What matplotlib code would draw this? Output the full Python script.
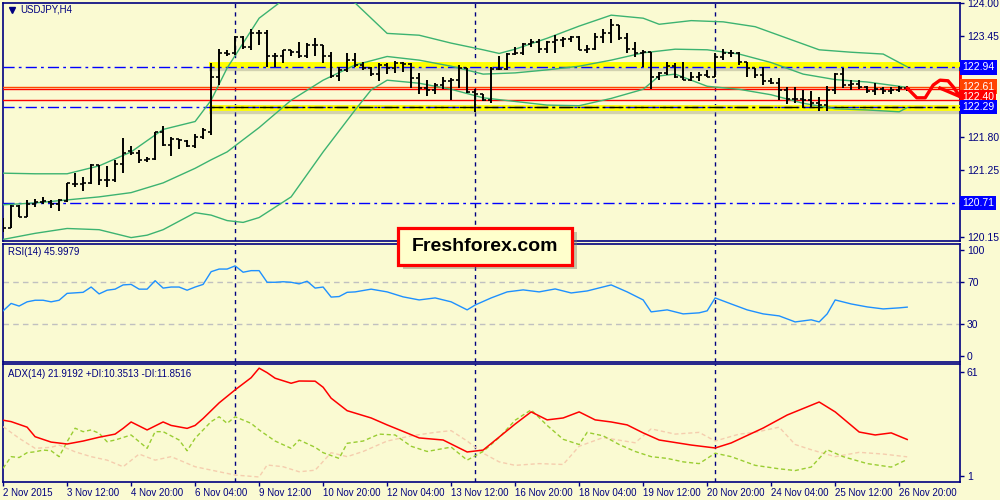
import matplotlib
matplotlib.use('Agg')
import matplotlib.pyplot as plt
import matplotlib.transforms as mtransforms
from matplotlib.patches import Rectangle

plt.rcParams['font.family'] = ['Liberation Sans', 'DejaVu Sans']

BG = '#FAFAD2'
NAVY = '#000080'

# --- USDJPY H4 bars (open, high, low, close) ---
opens = [120.30, 120.30, 120.66, 120.48, 120.70, 120.73, 120.73, 120.69, 120.75, 121.03,
         121.03, 121.04, 121.33, 121.09, 121.09, 121.35, 121.57, 121.53, 121.42, 121.43,
         121.88, 121.66, 121.76, 121.73, 121.65, 121.79, 121.88, 122.79, 123.18, 123.17,
         123.44, 123.28, 123.51, 123.50, 123.12, 123.13, 123.22, 123.20, 123.12, 123.31,
         123.31, 123.12, 122.80, 122.89, 123.06, 122.98, 122.93, 122.84, 122.98, 122.93,
         123.01, 123.00, 122.76, 122.60, 122.57, 122.65, 122.71, 122.74, 122.93, 122.54,
         122.50, 122.40, 122.91, 122.91, 123.16, 123.17, 123.33, 123.36, 123.24, 123.36,
         123.39, 123.40, 123.44, 123.23, 123.25, 123.44, 123.50, 123.64, 123.42, 123.25,
         123.18, 123.20, 122.79, 122.85, 122.96, 122.79, 122.74, 122.78, 122.82, 122.79,
         123.11, 123.18, 123.17, 123.03, 122.93, 122.82, 122.71, 122.69, 122.57, 122.42,
         122.42, 122.40, 122.35, 122.32, 122.57, 122.84, 122.65, 122.67, 122.62, 122.56,
         122.58, 122.56, 122.57, 122.60]
highs = [120.46, 120.68, 120.68, 120.76, 120.77, 120.81, 120.76, 120.77, 121.04, 121.21,
         121.14, 121.35, 121.33, 121.31, 121.42, 121.78, 121.65, 121.58, 121.47, 121.88,
         121.97, 121.80, 121.77, 121.75, 121.84, 121.94, 123.01, 123.25, 123.23, 123.45,
         123.46, 123.58, 123.56, 123.56, 123.18, 123.23, 123.23, 123.36, 123.34, 123.42,
         123.31, 123.20, 122.95, 123.18, 123.17, 123.03, 122.95, 123.02, 123.02, 123.05,
         123.03, 123.01, 122.85, 122.73, 122.68, 122.78, 122.76, 122.98, 122.93, 122.58,
         122.51, 122.95, 123.13, 123.17, 123.28, 123.34, 123.40, 123.40, 123.38, 123.47,
         123.44, 123.46, 123.46, 123.31, 123.50, 123.58, 123.73, 123.64, 123.50, 123.36,
         123.23, 123.20, 122.87, 123.03, 123.01, 123.03, 122.87, 122.87, 122.89, 123.17,
         123.24, 123.23, 123.20, 123.03, 122.93, 122.95, 122.76, 122.76, 122.62, 122.61,
         122.57, 122.56, 122.46, 122.63, 122.85, 122.93, 122.73, 122.73, 122.63, 122.68,
         122.61, 122.61, 122.63, 122.63]
lows = [120.24, 120.29, 120.48, 120.48, 120.65, 120.69, 120.62, 120.57, 120.73, 120.98,
        120.91, 121.02, 121.01, 120.98, 121.06, 121.21, 121.50, 121.36, 121.39, 121.42,
        121.64, 121.48, 121.59, 121.63, 121.61, 121.77, 121.83, 122.65, 123.12, 123.14,
        123.25, 123.23, 123.31, 122.95, 122.95, 123.01, 123.12, 123.09, 123.09, 123.12,
        123.02, 122.76, 122.71, 122.87, 122.95, 122.90, 122.80, 122.71, 122.84, 122.85,
        122.87, 122.60, 122.51, 122.47, 122.51, 122.58, 122.40, 122.60, 122.52, 122.20,
        122.38, 122.35, 122.89, 122.89, 123.14, 123.14, 123.28, 123.17, 123.17, 123.17,
        123.28, 123.36, 123.22, 123.18, 123.23, 123.34, 123.34, 123.39, 123.17, 123.11,
        122.95, 122.58, 122.73, 122.82, 122.76, 122.73, 122.71, 122.71, 122.78, 122.78,
        123.06, 123.11, 122.98, 122.78, 122.76, 122.65, 122.67, 122.40, 122.34, 122.35,
        122.27, 122.29, 122.23, 122.23, 122.51, 122.60, 122.57, 122.58, 122.52, 122.49,
        122.51, 122.50, 122.54, 122.56]
closes = [120.30, 120.66, 120.48, 120.70, 120.73, 120.74, 120.69, 120.76, 121.04, 121.03,
          121.04, 121.33, 121.09, 121.09, 121.35, 121.54, 121.53, 121.42, 121.43, 121.87,
          121.66, 121.76, 121.75, 121.65, 121.80, 121.91, 122.79, 123.18, 123.16, 123.44,
          123.28, 123.51, 123.50, 123.12, 123.13, 123.22, 123.20, 123.12, 123.31, 123.31,
          123.12, 122.80, 122.89, 123.06, 122.98, 122.93, 122.84, 122.98, 122.93, 123.01,
          123.00, 122.76, 122.60, 122.57, 122.65, 122.71, 122.74, 122.93, 122.54, 122.50,
          122.40, 122.91, 122.91, 123.16, 123.17, 123.33, 123.36, 123.24, 123.36, 123.39,
          123.40, 123.44, 123.23, 123.25, 123.44, 123.50, 123.64, 123.42, 123.25, 123.18,
          123.20, 122.78, 122.85, 122.96, 122.79, 122.74, 122.78, 122.82, 122.79, 123.11,
          123.18, 123.17, 123.03, 122.93, 122.82, 122.71, 122.69, 122.57, 122.42, 122.42,
          122.40, 122.35, 122.32, 122.57, 122.84, 122.65, 122.67, 122.62, 122.56, 122.58,
          122.56, 122.57, 122.60, 122.58]

# --- Bollinger bands (read at sample bars) ---
bb_up_idx = [0, 4, 8, 12, 16, 20, 24, 26, 28, 32, 36, 40, 44, 48, 52, 56, 60, 62, 64, 68,
             72, 76, 80, 82, 86, 90, 94, 98, 102, 106, 110, 113]
bb_up = [121.20, 121.19, 121.19, 121.32, 121.55, 121.92, 122.05, 122.40, 122.93, 123.75,
         124.15, 124.25, 124.00, 123.50, 123.47, 123.34, 123.23, 123.17, 123.24, 123.42,
         123.62, 123.80, 123.75, 123.65, 123.71, 123.69, 123.61, 123.42, 123.23, 123.19,
         123.16, 122.95]
bb_mid_idx = [0, 4, 8, 12, 16, 20, 24, 26, 28, 32, 36, 40, 44, 48, 52, 56, 60, 64, 68, 72,
              76, 80, 84, 88, 92, 96, 100, 104, 108, 112, 113]
bb_mid = [120.68, 120.71, 120.76, 120.81, 120.88, 121.04, 121.28, 121.42, 121.55, 121.95,
          122.40, 122.73, 122.98, 123.12, 123.06, 122.96, 122.83, 122.85, 122.90, 122.96,
          123.06, 123.18, 123.24, 123.23, 123.16, 123.02, 122.83, 122.74, 122.70, 122.63,
          122.61]
bb_low_idx = [0, 4, 8, 12, 16, 18, 20, 24, 26, 28, 30, 32, 36, 40, 44, 46, 48, 52, 56, 60,
              64, 68, 72, 76, 80, 82, 84, 88, 92, 96, 100, 104, 108, 112, 113]
bb_low = [120.11, 120.21, 120.29, 120.27, 120.14, 120.18, 120.27, 120.55, 120.51, 120.42,
          120.39, 120.47, 120.81, 121.55, 122.24, 122.57, 122.73, 122.68, 122.58, 122.44,
          122.38, 122.32, 122.31, 122.43, 122.58, 122.80, 122.83, 122.63, 122.58, 122.49,
          122.35, 122.26, 122.24, 122.21, 122.28]

# --- hand drawn forecast ---
fc_x = [113, 114.2, 115.25, 116.25, 117.1, 118.1, 118.75, 119.6]
fc_y = [122.60, 122.44, 122.44, 122.65, 122.73, 122.72, 122.62, 122.46]

# --- RSI(14) ---
rsi_idx = [0, 1, 2, 3, 4, 5, 6, 7, 8, 9, 10, 11, 12, 13, 14, 15, 16, 17, 18, 19, 20, 21,
           22, 23, 24, 25, 26, 27, 28, 29, 30, 31, 32, 33, 34, 35, 36, 37, 38, 39, 40, 41,
           42, 43, 44, 46, 48, 50, 52, 54, 56, 58, 59, 61, 63, 65, 67, 69, 71, 73, 76, 78,
           80, 81, 83, 85, 87, 88, 89, 91, 93, 95, 97, 99, 101, 102, 103, 104, 106, 108,
           110, 112, 113]
rsi = [42.5, 49.5, 47, 51, 52.5, 52.5, 51, 52.5, 59, 59.5, 60, 65, 58.5, 62, 63, 67, 67.5,
       63, 63, 71, 64, 65, 65, 62, 65, 67.5, 79.5, 82, 82, 85, 79, 80.5, 80.5, 69.5, 69.5,
       70, 69.5, 68, 70.5, 64, 65, 55.5, 56, 60, 60.4, 63, 60.4, 55.7, 52.8, 54.7, 51,
       43.4, 48, 54.7, 60.4, 62.3, 60.4, 63.2, 59.4, 61.3, 67, 60.4, 52.8, 41.5, 43.4,
       39.6, 40.6, 42.5, 54.7, 49, 43.4, 39.6, 37.7, 32, 34, 32, 39.6, 52.8, 49, 46.2,
       44.3, 45.3, 46.0]

# --- ADX(14) ---
adx_idx = [0, 1, 3, 4, 6, 8, 10, 12, 14, 15, 16, 18, 20, 21, 23, 24, 25, 27, 29, 31, 32,
           33, 34, 36, 37, 39, 40, 41, 43, 46, 48, 52, 55, 58, 60, 62, 64, 66, 68, 70, 72,
           74, 76, 78, 80, 82, 86, 89, 91, 95, 98, 102, 104, 107, 109, 111, 113]
adx = [33, 32.2, 29, 23.5, 20.4, 19.3, 21, 23.2, 25, 28.3, 32, 27.4, 32, 30, 28.3, 30, 34,
       43, 50.5, 57.5, 63, 60.4, 57.2, 54.3, 55.6, 55.5, 52, 45.7, 38.5, 34.3, 30.3, 22.8,
       21.6, 14.7, 15.8, 23.3, 30.8, 37.8, 33.2, 34.3, 37.8, 33.2, 32, 30.3, 25.7, 21.6,
       18.7, 17, 19.9, 28.5, 36, 43.5, 37.8, 26.2, 24.5, 25.7, 21.9]
pdi_idx = [0, 1, 2, 3, 4, 5, 6, 7, 8, 9, 10, 11, 12, 13, 14, 16, 18, 19, 20, 22, 23, 24, 26,
           27, 28, 29, 31, 32, 34, 36, 37, 39, 40, 42, 43, 45, 47, 49, 51, 53, 56, 58, 60,
           62, 64, 66, 68, 70, 72, 73, 75, 77, 79, 81, 83, 85, 87, 89, 91, 94, 97, 99, 101,
           103, 105, 108, 111, 113]
pdi = [5.3, 12, 11.5, 14.3, 14.8, 15.8, 15.4, 12, 20.6, 28.4, 26.4, 27.4, 25.5, 20.6, 21.6,
       24.5, 16.8, 26.4, 26.4, 21.6, 15.4, 22.6, 32.2, 35, 31.2, 35, 31.2, 27.4, 21, 16.8,
       21.6, 17.4, 14.3, 11, 19.7, 21, 25, 24.5, 18, 15, 17.5, 10, 15, 23, 33, 39, 30, 22,
       19, 26, 24, 19, 15, 12, 11, 9, 8, 14, 12, 7, 5, 4, 6, 16, 12, 8, 6, 10.4]
mdi_idx = [0, 2, 4, 6, 7, 9, 11, 13, 15, 17, 19, 21, 24, 27, 29, 32, 33, 35, 37, 39, 41,
           43, 45, 48, 51, 54, 56, 58, 60, 62, 64, 67, 70, 72, 75, 79, 81, 84, 87, 89, 92,
           94, 97, 99, 101, 104, 107, 110, 113]
mdi = [29.3, 22.6, 16.8, 17.4, 18.7, 14.8, 12, 10, 6.2, 13.5, 10, 12, 6.2, 3.3, 1.4, 0.3,
       7.2, 6.2, 3.3, 4.2, 14.3, 12, 15, 21, 24, 26, 27, 21, 14, 9, 7, 8, 7.5, 18, 23, 20,
       28, 25, 26, 21, 25, 26, 29, 19, 16, 12, 14.5, 13.5, 11.9]

tick_pos = list(range(0, 113, 8))
tick_labels = ['2 Nov 2015', '3 Nov 12:00', '4 Nov 20:00', '6 Nov 04:00', '9 Nov 12:00',
               '10 Nov 20:00', '12 Nov 04:00', '13 Nov 12:00', '16 Nov 20:00',
               '18 Nov 04:00', '19 Nov 12:00', '20 Nov 20:00', '24 Nov 04:00',
               '25 Nov 12:00', '26 Nov 20:00']
week_sep = [29, 59, 89]

fig = plt.figure(figsize=(10, 5), dpi=100, facecolor=BG)
L, W = 0.0027, 0.9573
ax = fig.add_axes([L, 0.518, W, 0.476], facecolor=BG)
ax_rsi = fig.add_axes([L, 0.276, W, 0.236], facecolor=BG)
ax_adx = fig.add_axes([L, 0.036, W, 0.236], facecolor=BG)

XMIN, XMAX = -0.05, 119.6
for a in (ax, ax_rsi, ax_adx):
    a.set_xlim(XMIN, XMAX)
    for s in a.spines.values():
        s.set_color(NAVY)
        s.set_linewidth(1.2)
    a.yaxis.tick_right()
    a.tick_params(axis='y', colors=NAVY, labelsize=7.5, length=3, width=1, pad=2,
                  labelcolor=NAVY)
    for w in week_sep:
        a.axvline(w, color=NAVY, lw=1, ls=(0, (3, 3)), zorder=1)

# main price panel
ax.set_ylim(120.084, 124.0)
ax.set_xticks([])
yt = [124.00, 123.45, 122.90, 122.35, 121.80, 121.25, 120.70, 120.15]
ax.set_yticks(yt)
ax.set_yticklabels(['%.2f' % v if v not in (122.90, 122.35, 120.70) else '' for v in yt])

trans = mtransforms.blended_transform_factory(ax.transAxes, ax.transData)
# yellow zone lines with shadow
for lvl in (122.985, 122.277):
    ax.plot([26 - 0.3, XMAX], [lvl - 0.045, lvl - 0.045], color='#8a8a70', lw=6,
            alpha=0.35, solid_capstyle='butt', zorder=2)
    ax.plot([26 - 0.3, XMAX], [lvl, lvl], color='#FFFF00', lw=4.2,
            solid_capstyle='butt', zorder=3)
for lvl in (122.94, 122.29, 120.71):
    ax.axhline(lvl, color='#0000FF', lw=1, ls=(0, (8, 3, 2, 3)), zorder=4)
ax.plot([26 - 0.3, XMAX], [122.285, 122.285], color='black', lw=1,
        ls=(0, (10, 3, 2, 3)), zorder=4)
ax.axhline(122.61, color='#FF4500', lw=1, zorder=4)
ax.axhline(122.58, color='#FF0000', lw=1, zorder=4)
ax.axhline(122.40, color='#FF0000', lw=1, zorder=4)

x = list(range(len(closes)))
ax.plot(bb_up_idx, bb_up, color='#3CB371', lw=1, zorder=5)
ax.plot(bb_mid_idx, bb_mid, color='#3CB371', lw=1, zorder=5)
ax.plot(bb_low_idx, bb_low, color='#3CB371', lw=1, zorder=5)

ax.vlines(x, lows, highs, color='black', lw=1.4, zorder=6)
ax.hlines(opens, [i - 0.4 for i in x], x, color='black', lw=1.2, zorder=6)
ax.hlines(closes, x, [i + 0.4 for i in x], color='black', lw=1.2, zorder=6)

ax.plot(fc_x, fc_y, color='#FF0000', lw=2.4, zorder=7, solid_capstyle='round',
        clip_on=False)
ax.plot([117.1, 119.6], [122.60, 122.46], color='#FF0000', lw=2.4, zorder=7, clip_on=False)
ax.plot([119.6, 119.6], [122.86, 122.46], color='#FF0000', lw=2, zorder=7, clip_on=False)

# price labels on the right scale (label position, text, colour)
boxes = [(122.94, 122.94, '#0000FF'), (122.625, 122.61, '#FF4500'),
         (122.455, 122.40, '#FF0000'), (122.29, 122.29, '#0000FF'),
         (120.71, 120.71, '#0000FF')]
for pos, lvl, c in boxes:
    ax.text(1.0025, pos, '%.2f' % lvl, transform=trans, ha='left', va='center',
            fontsize=7.5, color='white', zorder=20, clip_on=False,
            bbox=dict(facecolor=c, edgecolor='none', boxstyle='square,pad=0.2'))

ax.text(0.018, 0.972, 'USDJPY,H4', transform=ax.transAxes, fontsize=7, color=NAVY,
        va='center', ha='left')
ax.plot([0.0095], [0.972], marker='v', color=NAVY, ms=4, transform=ax.transAxes,
        clip_on=False)

# RSI panel
ax_rsi.set_ylim(-5.9, 105.7)
ax_rsi.set_xticks([])
ax_rsi.set_yticks([100, 70, 30, 0])
ax_rsi.set_yticklabels(['100', '70', '30', '0'])
for lvl in (70, 30):
    ax_rsi.axhline(lvl, color='#C0C0C0', lw=1, ls=(0, (4, 3)), zorder=2)
ax_rsi.plot(rsi_idx, rsi, color='#1E90FF', lw=1, zorder=5)
ax_rsi.text(0.006, 0.93, 'RSI(14) 45.9979', transform=ax_rsi.transAxes, fontsize=7,
            color=NAVY, va='center', ha='left')

# ADX panel
ax_adx.set_ylim(-2.6, 65.4)
ax_adx.set_yticks([61, 1])
ax_adx.set_yticklabels(['61', '1'])
ax_adx.plot(mdi_idx, mdi, color='#F5CDAE', lw=1, ls=(0, (3, 2)), zorder=3)
ax_adx.plot(pdi_idx, pdi, color='#9ACD32', lw=1, ls=(0, (3, 2)), zorder=4)
ax_adx.plot(adx_idx, adx, color='#FF0000', lw=1.1, zorder=5)
ax_adx.text(0.006, 0.915, 'ADX(14) 21.9192 +DI:10.3513 -DI:11.8516',
            transform=ax_adx.transAxes, fontsize=7, color=NAVY, va='center', ha='left')
ax_adx.set_xticks(tick_pos)
ax_adx.set_xticklabels(tick_labels, ha='left')
ax_adx.tick_params(axis='x', colors=NAVY, labelsize=7, length=3, width=1, pad=1.5,
                   labelcolor=NAVY)

# Freshforex watermark
fig.add_artist(Rectangle((0.403, 0.462), 0.174, 0.074, transform=fig.transFigure,
                         facecolor='#808070', edgecolor='none', alpha=0.45, zorder=10))
fig.add_artist(Rectangle((0.398, 0.470), 0.174, 0.074, transform=fig.transFigure,
                         facecolor='#FFFFCC', edgecolor='#FF0000', lw=2.3, zorder=11))
fig.text(0.485, 0.507, 'Freshforex.com', ha='center', va='center', fontsize=14,
         fontweight='bold', color='black', zorder=12)

fig.savefig('out.png', dpi=100, facecolor=BG)
